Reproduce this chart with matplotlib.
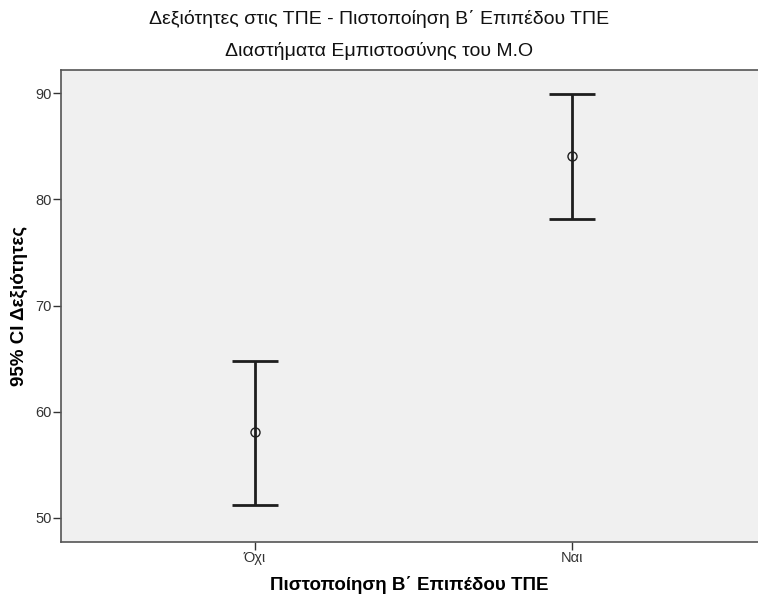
import matplotlib
matplotlib.use('Agg')
import matplotlib.pyplot as plt
import numpy as np

plt.rcParams['font.family'] = ['Liberation Sans', 'DejaVu Sans']

categories = ['Όχι', 'Ναι']
means = [58.05, 84.05]
ci_lower = [51.25, 78.2]
ci_upper = [64.8, 89.95]

x = np.arange(len(categories))
means = np.array(means)
err = [means - np.array(ci_lower), np.array(ci_upper) - means]

fig = plt.figure(figsize=(7.58, 6.01), dpi=100)
ax = fig.add_axes([0.0805, 0.0987, 0.9195, 0.7848])
ax.set_facecolor('#f0f0f0')

# whiskers and caps
ax.errorbar(x, means, yerr=err, fmt='none', ecolor='#1e1e1e',
            elinewidth=2.0, capsize=16.5, capthick=2.0)
# mean markers
ax.plot(x, means, 'o', color='#1e1e1e', markersize=6.5,
        markerfacecolor='none', markeredgewidth=1.0)

ax.set_xlim(-0.612, 1.587)
ax.set_ylim(47.75, 92.2)
ax.set_yticks([50, 60, 70, 80, 90])
ax.set_xticks(x)
ax.set_xticklabels(categories)

for s in ['top', 'left', 'bottom']:
    ax.spines[s].set_color('#555555')
    ax.spines[s].set_linewidth(1.2)
ax.spines['right'].set_visible(False)
ax.tick_params(axis='both', direction='out', length=6, width=1, color='#333333',
               labelsize=10.5, labelcolor='#333333', pad=0.8)

ax.set_ylabel('95% CI Δεξιότητες', fontsize=13.5, fontweight='bold', labelpad=5)
ax.set_xlabel('Πιστοποίηση Β΄ Επιπέδου ΤΠΕ', fontsize=13.5, fontweight='bold', labelpad=8)

fig.text(0.5, 0.969, 'Δεξιότητες στις ΤΠΕ - Πιστοποίηση Β΄ Επιπέδου ΤΠΕ',
         ha='center', va='center', fontsize=14, color='#111111')
fig.text(0.5, 0.915, 'Διαστήματα Εμπιστοσύνης του Μ.Ο',
         ha='center', va='center', fontsize=14, color='#111111')

fig.savefig('out.png', dpi=100)
